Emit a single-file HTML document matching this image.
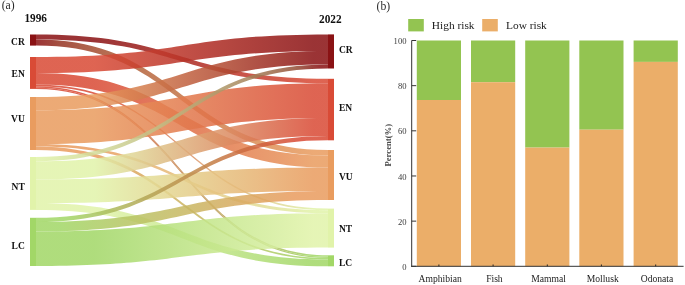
<!DOCTYPE html>
<html><head><meta charset="utf-8"><style>
html,body{margin:0;padding:0;background:#fff;}
svg{display:block;will-change:transform;}
text{font-family:"Liberation Serif",serif;}
.nl{font-size:9.5px;font-weight:bold;fill:#111;}
.yr{font-size:11.9px;font-weight:bold;fill:#111;}
.pl{font-size:11.7px;fill:#2a2a2a;}
.tl{font-size:9.6px;fill:#222;}
.yl{font-size:8.6px;fill:#3a3a3a;}
.at{font-size:8.7px;font-weight:bold;fill:#4a4a4a;}
.lg{font-size:11.4px;fill:#1a1a1a;}
</style></head><body>
<svg width="685" height="285" viewBox="0 0 685 285">
<defs><linearGradient id="g0" gradientUnits="userSpaceOnUse" x1="36" y1="0" x2="328" y2="0"><stop offset="0.200" stop-color="#8a1214"/><stop offset="0.263" stop-color="#911717"/><stop offset="0.325" stop-color="#971c1a"/><stop offset="0.388" stop-color="#9e201c"/><stop offset="0.450" stop-color="#a4251f"/><stop offset="0.512" stop-color="#ab2a22"/><stop offset="0.575" stop-color="#b22e25"/><stop offset="0.637" stop-color="#b83328"/><stop offset="0.700" stop-color="#bf382b"/><stop offset="0.762" stop-color="#c53d2e"/><stop offset="0.825" stop-color="#cc4230"/><stop offset="0.887" stop-color="#d24633"/><stop offset="0.950" stop-color="#d94b36"/></linearGradient><linearGradient id="g1" gradientUnits="userSpaceOnUse" x1="36" y1="0" x2="328" y2="0"><stop offset="0.000" stop-color="#8a1214"/><stop offset="0.079" stop-color="#953322"/><stop offset="0.158" stop-color="#9f462c"/><stop offset="0.237" stop-color="#a95434"/><stop offset="0.317" stop-color="#b15f3a"/><stop offset="0.396" stop-color="#b96940"/><stop offset="0.475" stop-color="#c17246"/><stop offset="0.554" stop-color="#c97b4b"/><stop offset="0.633" stop-color="#d0824f"/><stop offset="0.712" stop-color="#d68954"/><stop offset="0.792" stop-color="#dd9058"/><stop offset="0.871" stop-color="#e3965b"/><stop offset="0.950" stop-color="#e99c5f"/></linearGradient><linearGradient id="g2" gradientUnits="userSpaceOnUse" x1="36" y1="0" x2="328" y2="0"><stop offset="0.200" stop-color="#d94b36"/><stop offset="0.263" stop-color="#d24633"/><stop offset="0.325" stop-color="#cc4230"/><stop offset="0.388" stop-color="#c53d2e"/><stop offset="0.450" stop-color="#bf382b"/><stop offset="0.512" stop-color="#b83328"/><stop offset="0.575" stop-color="#b22e25"/><stop offset="0.637" stop-color="#ab2a22"/><stop offset="0.700" stop-color="#a4251f"/><stop offset="0.762" stop-color="#9e201c"/><stop offset="0.825" stop-color="#971c1a"/><stop offset="0.887" stop-color="#911717"/><stop offset="0.950" stop-color="#8a1214"/></linearGradient><linearGradient id="g3" gradientUnits="userSpaceOnUse" x1="36" y1="0" x2="328" y2="0"><stop offset="0.200" stop-color="#d94b36"/><stop offset="0.263" stop-color="#da5239"/><stop offset="0.325" stop-color="#dc583d"/><stop offset="0.388" stop-color="#dd5f40"/><stop offset="0.450" stop-color="#de6644"/><stop offset="0.512" stop-color="#e06d47"/><stop offset="0.575" stop-color="#e1744a"/><stop offset="0.637" stop-color="#e27a4e"/><stop offset="0.700" stop-color="#e48151"/><stop offset="0.762" stop-color="#e58855"/><stop offset="0.825" stop-color="#e68e58"/><stop offset="0.887" stop-color="#e8955c"/><stop offset="0.950" stop-color="#e99c5f"/></linearGradient><linearGradient id="g4" gradientUnits="userSpaceOnUse" x1="36" y1="0" x2="328" y2="0"><stop offset="0.200" stop-color="#d94b36"/><stop offset="0.263" stop-color="#da5940"/><stop offset="0.325" stop-color="#da6749"/><stop offset="0.388" stop-color="#db7553"/><stop offset="0.450" stop-color="#dc835d"/><stop offset="0.512" stop-color="#dc9166"/><stop offset="0.575" stop-color="#dd9f70"/><stop offset="0.637" stop-color="#dead7a"/><stop offset="0.700" stop-color="#debb83"/><stop offset="0.762" stop-color="#dfc98d"/><stop offset="0.825" stop-color="#e0d797"/><stop offset="0.887" stop-color="#e0e5a0"/><stop offset="0.950" stop-color="#e1f3aa"/></linearGradient><linearGradient id="g5" gradientUnits="userSpaceOnUse" x1="36" y1="0" x2="328" y2="0"><stop offset="0.200" stop-color="#d94b36"/><stop offset="0.263" stop-color="#d4573a"/><stop offset="0.325" stop-color="#d0623e"/><stop offset="0.388" stop-color="#cb6e42"/><stop offset="0.450" stop-color="#c77a46"/><stop offset="0.512" stop-color="#c2854a"/><stop offset="0.575" stop-color="#be914e"/><stop offset="0.637" stop-color="#b99d53"/><stop offset="0.700" stop-color="#b4a857"/><stop offset="0.762" stop-color="#b0b45b"/><stop offset="0.825" stop-color="#abc05f"/><stop offset="0.887" stop-color="#a7cb63"/><stop offset="0.950" stop-color="#a2d767"/></linearGradient><linearGradient id="g6" gradientUnits="userSpaceOnUse" x1="36" y1="0" x2="328" y2="0"><stop offset="0.200" stop-color="#d94b36"/><stop offset="0.263" stop-color="#d4573a"/><stop offset="0.325" stop-color="#d0623e"/><stop offset="0.388" stop-color="#cb6e42"/><stop offset="0.450" stop-color="#c77a46"/><stop offset="0.512" stop-color="#c2854a"/><stop offset="0.575" stop-color="#be914e"/><stop offset="0.637" stop-color="#b99d53"/><stop offset="0.700" stop-color="#b4a857"/><stop offset="0.762" stop-color="#b0b45b"/><stop offset="0.825" stop-color="#abc05f"/><stop offset="0.887" stop-color="#a7cb63"/><stop offset="0.950" stop-color="#a2d767"/></linearGradient><linearGradient id="g7" gradientUnits="userSpaceOnUse" x1="36" y1="0" x2="328" y2="0"><stop offset="0.200" stop-color="#e99c5f"/><stop offset="0.263" stop-color="#e19059"/><stop offset="0.325" stop-color="#d98552"/><stop offset="0.388" stop-color="#d17a4c"/><stop offset="0.450" stop-color="#c96e46"/><stop offset="0.512" stop-color="#c16240"/><stop offset="0.575" stop-color="#ba573a"/><stop offset="0.637" stop-color="#b24c33"/><stop offset="0.700" stop-color="#aa402d"/><stop offset="0.762" stop-color="#a23427"/><stop offset="0.825" stop-color="#9a2920"/><stop offset="0.887" stop-color="#921e1a"/><stop offset="0.950" stop-color="#8a1214"/></linearGradient><linearGradient id="g8" gradientUnits="userSpaceOnUse" x1="36" y1="0" x2="328" y2="0"><stop offset="0.200" stop-color="#e99c5f"/><stop offset="0.263" stop-color="#e8955c"/><stop offset="0.325" stop-color="#e68e58"/><stop offset="0.388" stop-color="#e58855"/><stop offset="0.450" stop-color="#e48151"/><stop offset="0.512" stop-color="#e27a4e"/><stop offset="0.575" stop-color="#e1744a"/><stop offset="0.637" stop-color="#e06d47"/><stop offset="0.700" stop-color="#de6644"/><stop offset="0.762" stop-color="#dd5f40"/><stop offset="0.825" stop-color="#dc583d"/><stop offset="0.887" stop-color="#da5239"/><stop offset="0.950" stop-color="#d94b36"/></linearGradient><linearGradient id="g9" gradientUnits="userSpaceOnUse" x1="36" y1="0" x2="328" y2="0"><stop offset="0.200" stop-color="#e99c5f"/><stop offset="0.263" stop-color="#e8a365"/><stop offset="0.325" stop-color="#e8aa6c"/><stop offset="0.388" stop-color="#e7b272"/><stop offset="0.450" stop-color="#e6b978"/><stop offset="0.512" stop-color="#e6c07e"/><stop offset="0.575" stop-color="#e5c884"/><stop offset="0.637" stop-color="#e4cf8b"/><stop offset="0.700" stop-color="#e4d691"/><stop offset="0.762" stop-color="#e3dd97"/><stop offset="0.825" stop-color="#e2e49e"/><stop offset="0.887" stop-color="#e2eca4"/><stop offset="0.950" stop-color="#e1f3aa"/></linearGradient><linearGradient id="g10" gradientUnits="userSpaceOnUse" x1="36" y1="0" x2="328" y2="0"><stop offset="0.200" stop-color="#e99c5f"/><stop offset="0.263" stop-color="#e3a160"/><stop offset="0.325" stop-color="#dda660"/><stop offset="0.388" stop-color="#d7ab61"/><stop offset="0.450" stop-color="#d1b062"/><stop offset="0.512" stop-color="#cbb562"/><stop offset="0.575" stop-color="#c6ba63"/><stop offset="0.637" stop-color="#c0be64"/><stop offset="0.700" stop-color="#bac364"/><stop offset="0.762" stop-color="#b4c865"/><stop offset="0.825" stop-color="#aecd66"/><stop offset="0.887" stop-color="#a8d266"/><stop offset="0.950" stop-color="#a2d767"/></linearGradient><linearGradient id="g11" gradientUnits="userSpaceOnUse" x1="36" y1="0" x2="328" y2="0"><stop offset="0.000" stop-color="#e1f3aa"/><stop offset="0.081" stop-color="#dbeaa4"/><stop offset="0.162" stop-color="#d6e09d"/><stop offset="0.242" stop-color="#d0d696"/><stop offset="0.323" stop-color="#c9cb8e"/><stop offset="0.404" stop-color="#c3c086"/><stop offset="0.485" stop-color="#bcb37d"/><stop offset="0.566" stop-color="#b5a573"/><stop offset="0.647" stop-color="#ad9668"/><stop offset="0.728" stop-color="#a6835b"/><stop offset="0.808" stop-color="#9d6d4c"/><stop offset="0.889" stop-color="#945038"/><stop offset="0.970" stop-color="#8a1214"/></linearGradient><linearGradient id="g12" gradientUnits="userSpaceOnUse" x1="36" y1="0" x2="328" y2="0"><stop offset="0.200" stop-color="#e1f3aa"/><stop offset="0.263" stop-color="#e0e5a0"/><stop offset="0.325" stop-color="#e0d797"/><stop offset="0.388" stop-color="#dfc98d"/><stop offset="0.450" stop-color="#debb83"/><stop offset="0.512" stop-color="#dead7a"/><stop offset="0.575" stop-color="#dd9f70"/><stop offset="0.637" stop-color="#dc9166"/><stop offset="0.700" stop-color="#dc835d"/><stop offset="0.762" stop-color="#db7553"/><stop offset="0.825" stop-color="#da6749"/><stop offset="0.887" stop-color="#da5940"/><stop offset="0.950" stop-color="#d94b36"/></linearGradient><linearGradient id="g13" gradientUnits="userSpaceOnUse" x1="36" y1="0" x2="328" y2="0"><stop offset="0.200" stop-color="#e1f3aa"/><stop offset="0.263" stop-color="#e2eca4"/><stop offset="0.325" stop-color="#e2e49e"/><stop offset="0.388" stop-color="#e3dd97"/><stop offset="0.450" stop-color="#e4d691"/><stop offset="0.512" stop-color="#e4cf8b"/><stop offset="0.575" stop-color="#e5c884"/><stop offset="0.637" stop-color="#e6c07e"/><stop offset="0.700" stop-color="#e6b978"/><stop offset="0.762" stop-color="#e7b272"/><stop offset="0.825" stop-color="#e8aa6c"/><stop offset="0.887" stop-color="#e8a365"/><stop offset="0.950" stop-color="#e99c5f"/></linearGradient><linearGradient id="g14" gradientUnits="userSpaceOnUse" x1="36" y1="0" x2="328" y2="0"><stop offset="0.200" stop-color="#e1f3aa"/><stop offset="0.263" stop-color="#dcf1a4"/><stop offset="0.325" stop-color="#d6ee9f"/><stop offset="0.388" stop-color="#d1ec99"/><stop offset="0.450" stop-color="#ccea94"/><stop offset="0.512" stop-color="#c7e78e"/><stop offset="0.575" stop-color="#c2e588"/><stop offset="0.637" stop-color="#bce383"/><stop offset="0.700" stop-color="#b7e07d"/><stop offset="0.762" stop-color="#b2de78"/><stop offset="0.825" stop-color="#acdc72"/><stop offset="0.887" stop-color="#a7d96d"/><stop offset="0.950" stop-color="#a2d767"/></linearGradient><linearGradient id="g15" gradientUnits="userSpaceOnUse" x1="36" y1="0" x2="328" y2="0"><stop offset="0.100" stop-color="#a2d767"/><stop offset="0.167" stop-color="#a7cb63"/><stop offset="0.233" stop-color="#abc05f"/><stop offset="0.300" stop-color="#b0b45b"/><stop offset="0.367" stop-color="#b4a857"/><stop offset="0.433" stop-color="#b99d53"/><stop offset="0.500" stop-color="#be914e"/><stop offset="0.567" stop-color="#c2854a"/><stop offset="0.633" stop-color="#c77a46"/><stop offset="0.700" stop-color="#cb6e42"/><stop offset="0.767" stop-color="#d0623e"/><stop offset="0.833" stop-color="#d4573a"/><stop offset="0.900" stop-color="#d94b36"/></linearGradient><linearGradient id="g16" gradientUnits="userSpaceOnUse" x1="36" y1="0" x2="328" y2="0"><stop offset="0.080" stop-color="#a2d767"/><stop offset="0.147" stop-color="#a8d266"/><stop offset="0.213" stop-color="#aecd66"/><stop offset="0.280" stop-color="#b4c865"/><stop offset="0.347" stop-color="#bac364"/><stop offset="0.413" stop-color="#c0be64"/><stop offset="0.480" stop-color="#c6ba63"/><stop offset="0.547" stop-color="#cbb562"/><stop offset="0.613" stop-color="#d1b062"/><stop offset="0.680" stop-color="#d7ab61"/><stop offset="0.747" stop-color="#dda660"/><stop offset="0.813" stop-color="#e3a160"/><stop offset="0.880" stop-color="#e99c5f"/></linearGradient><linearGradient id="g17" gradientUnits="userSpaceOnUse" x1="36" y1="0" x2="328" y2="0"><stop offset="0.200" stop-color="#a2d767"/><stop offset="0.263" stop-color="#a7d96d"/><stop offset="0.325" stop-color="#acdc72"/><stop offset="0.388" stop-color="#b2de78"/><stop offset="0.450" stop-color="#b7e07d"/><stop offset="0.512" stop-color="#bce383"/><stop offset="0.575" stop-color="#c2e588"/><stop offset="0.637" stop-color="#c7e78e"/><stop offset="0.700" stop-color="#ccea94"/><stop offset="0.762" stop-color="#d1ec99"/><stop offset="0.825" stop-color="#d6ee9f"/><stop offset="0.887" stop-color="#dcf1a4"/><stop offset="0.950" stop-color="#e1f3aa"/></linearGradient></defs>
<g opacity="1"><g fill-opacity="0.86"><path d="M36 34.5C182 34.5 182 78.8 328 78.8L328 83.2C182 83.2 182 39.5 36 39.5Z" fill="url(#g0)"/><path d="M36 39.5C182 39.5 182 150 328 150L328 155.6C182 155.6 182 45.6 36 45.6Z" fill="url(#g1)"/><path d="M36 57C182 57 182 34.4 328 34.4L328 51C182 51 182 73.1 36 73.1Z" fill="url(#g2)"/><path d="M36 73.1C182 73.1 182 155.6 328 155.6L328 167.6C182 167.6 182 84.5 36 84.5Z" fill="url(#g3)"/><path d="M36 84.5C182 84.5 182 208.6 328 208.6L328 210.2C182 210.2 182 86.2 36 86.2Z" fill="url(#g4)"/><path d="M36 86.2C182 86.2 182 255.3 328 255.3L328 256.8C182 256.8 182 87.7 36 87.7Z" fill="url(#g5)"/><path d="M36 87.7C182 87.7 182 256.8 328 256.8L328 258C182 258 182 88.9 36 88.9Z" fill="url(#g6)"/><path d="M36 97C182 97 182 51 328 51L328 64.5C182 64.5 182 110.2 36 110.2Z" fill="url(#g7)"/><path d="M36 110.2C182 110.2 182 83.2 328 83.2L328 118C182 118 182 144 36 144Z" fill="url(#g8)"/><path d="M36 144C182 144 182 210.2 328 210.2L328 213.2C182 213.2 182 146.5 36 146.5Z" fill="url(#g9)"/><path d="M36 146.5C182 146.5 182 258 328 258L328 259.5C182 259.5 182 150 36 150Z" fill="url(#g10)"/><path d="M36 157C182 157 182 64.5 328 64.5L328 68.5C182 68.5 182 161.3 36 161.3Z" fill="url(#g11)"/><path d="M36 161.3C182 161.3 182 118 328 118L328 136C182 136 182 179.5 36 179.5Z" fill="url(#g12)"/><path d="M36 179.5C182 179.5 182 167.6 328 167.6L328 190.9C182 190.9 182 203.1 36 203.1Z" fill="url(#g13)"/><path d="M36 203.1C182 203.1 182 259.5 328 259.5L328 266.3C182 266.3 182 209.9 36 209.9Z" fill="url(#g14)"/><path d="M36 217.8C182 217.8 182 136 328 136L328 140.3C182 140.3 182 222 36 222Z" fill="url(#g15)"/><path d="M36 222C182 222 182 190.9 328 190.9L328 200C182 200 182 231.5 36 231.5Z" fill="url(#g16)"/><path d="M36 231.5C182 231.5 182 213.2 328 213.2L328 247.6C182 247.6 182 266 36 266Z" fill="url(#g17)"/></g></g>
<rect x="30" y="34.5" width="6" height="11.1" fill="#8a1214"/><rect x="30" y="57" width="6" height="31.9" fill="#d94b36"/><rect x="30" y="97" width="6" height="53" fill="#e99c5f"/><rect x="30" y="157" width="6" height="52.9" fill="#e1f3aa"/><rect x="30" y="217.8" width="6" height="48.2" fill="#a2d767"/><rect x="328" y="34.4" width="6" height="34.1" fill="#8a1214"/><rect x="328" y="78.8" width="6" height="61.5" fill="#d94b36"/><rect x="328" y="150" width="6" height="50" fill="#e99c5f"/><rect x="328" y="208.6" width="6" height="39" fill="#e1f3aa"/><rect x="328" y="255.3" width="6" height="11" fill="#a2d767"/>
<text x="24.8" y="44.8" text-anchor="end" class="nl">CR</text><text x="24.8" y="77.3" text-anchor="end" class="nl">EN</text><text x="24.8" y="121.8" text-anchor="end" class="nl">VU</text><text x="24.8" y="190.4" text-anchor="end" class="nl">NT</text><text x="24.8" y="249" text-anchor="end" class="nl">LC</text><text x="339" y="52.8" class="nl">CR</text><text x="339" y="111.2" class="nl">EN</text><text x="339" y="180.2" class="nl">VU</text><text x="339" y="232.4" class="nl">NT</text><text x="339" y="266" class="nl">LC</text>
<text x="1.7" y="9.2" class="pl">(a)</text>
<text x="24.4" y="22.3" class="yr" textLength="22.6" lengthAdjust="spacingAndGlyphs">1996</text>
<text x="319.0" y="22.9" class="yr" textLength="22.6" lengthAdjust="spacingAndGlyphs">2022</text>
<text x="376.6" y="9.7" class="pl">(b)</text>
<rect x="416.8" y="40.5" width="44.2" height="59.5" fill="#93c451"/><rect x="416.8" y="100" width="44.2" height="166.3" fill="#ebae69"/><line x1="438.9" y1="264.5" x2="438.9" y2="266.3" stroke="#222" stroke-width="1"/><text x="440.2" y="282.1" text-anchor="middle" class="tl">Amphibian</text><rect x="471" y="40.5" width="44.2" height="41.7" fill="#93c451"/><rect x="471" y="82.2" width="44.2" height="184.1" fill="#ebae69"/><line x1="493.1" y1="264.5" x2="493.1" y2="266.3" stroke="#222" stroke-width="1"/><text x="494.4" y="282.1" text-anchor="middle" class="tl">Fish</text><rect x="525.2" y="40.5" width="44.2" height="107.1" fill="#93c451"/><rect x="525.2" y="147.6" width="44.2" height="118.7" fill="#ebae69"/><line x1="547.3" y1="264.5" x2="547.3" y2="266.3" stroke="#222" stroke-width="1"/><text x="548.6" y="282.1" text-anchor="middle" class="tl">Mammal</text><rect x="579.3" y="40.5" width="44.2" height="89.2" fill="#93c451"/><rect x="579.3" y="129.7" width="44.2" height="136.6" fill="#ebae69"/><line x1="601.4" y1="264.5" x2="601.4" y2="266.3" stroke="#222" stroke-width="1"/><text x="602.7" y="282.1" text-anchor="middle" class="tl">Mollusk</text><rect x="633.6" y="40.5" width="44.2" height="21.4" fill="#93c451"/><rect x="633.6" y="61.9" width="44.2" height="204.4" fill="#ebae69"/><line x1="655.7" y1="264.5" x2="655.7" y2="266.3" stroke="#222" stroke-width="1"/><text x="657" y="282.1" text-anchor="middle" class="tl">Odonata</text><line x1="411.7" y1="40.5" x2="411.7" y2="266.8" stroke="#333" stroke-width="1"/><line x1="411.2" y1="266.3" x2="683.6" y2="266.3" stroke="#333" stroke-width="1"/><line x1="411.7" y1="266.3" x2="416.2" y2="266.3" stroke="#333" stroke-width="1"/><text x="406.5" y="269.9" text-anchor="end" class="yl">0</text><line x1="411.7" y1="221.14" x2="416.2" y2="221.14" stroke="#333" stroke-width="1"/><text x="406.5" y="224.74" text-anchor="end" class="yl">20</text><line x1="411.7" y1="175.98" x2="416.2" y2="175.98" stroke="#333" stroke-width="1"/><text x="406.5" y="179.58" text-anchor="end" class="yl">40</text><line x1="411.7" y1="130.82" x2="416.2" y2="130.82" stroke="#333" stroke-width="1"/><text x="406.5" y="134.42" text-anchor="end" class="yl">60</text><line x1="411.7" y1="85.66" x2="416.2" y2="85.66" stroke="#333" stroke-width="1"/><text x="406.5" y="89.26" text-anchor="end" class="yl">80</text><line x1="411.7" y1="40.5" x2="416.2" y2="40.5" stroke="#333" stroke-width="1"/><text x="406.5" y="44.1" text-anchor="end" class="yl">100</text><text transform="translate(390.7 145.2) rotate(-90)" text-anchor="middle" class="at">Percent(%)</text><rect x="408.2" y="19" width="15.6" height="12.4" fill="#93c451"/><rect x="482.2" y="19" width="15.6" height="12.4" fill="#ebae69"/><text x="431.8" y="28.7" class="lg">High risk</text><text x="506" y="28.7" class="lg">Low risk</text>
</svg>
</body></html>
